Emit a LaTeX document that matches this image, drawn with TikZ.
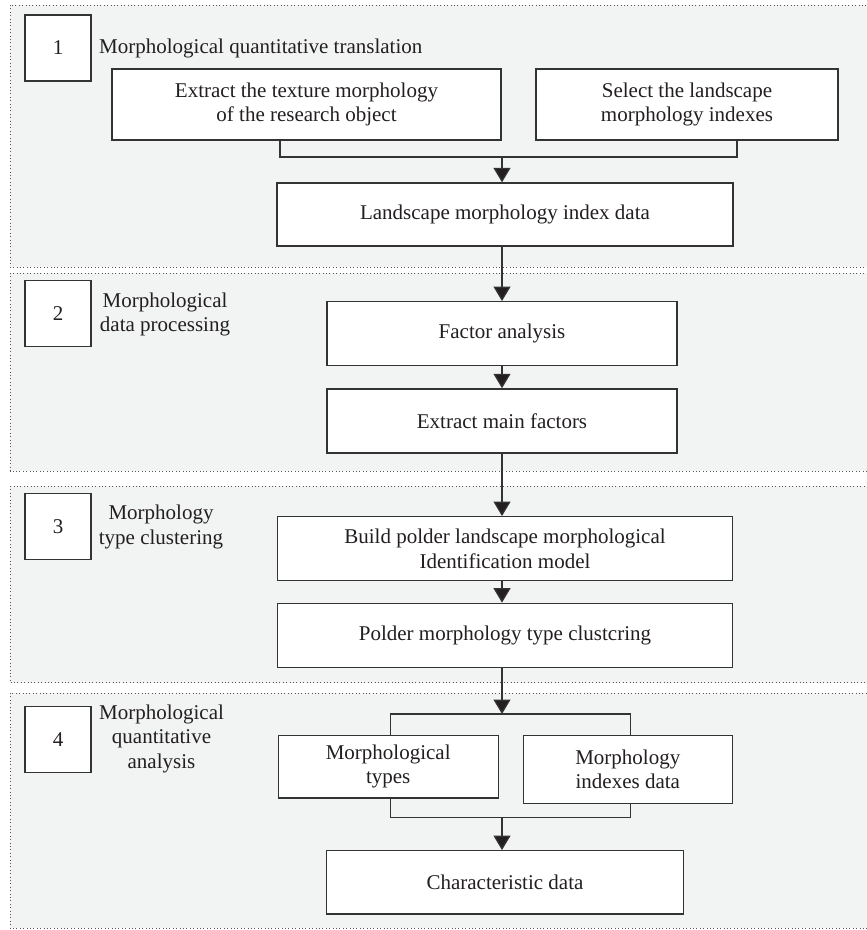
\documentclass[tikz,border=0pt]{standalone}
\usepackage{fontspec}
\setmainfont{Liberation Serif}
\usetikzlibrary{arrows.meta}
\definecolor{panelbg}{HTML}{F2F3F3}
\definecolor{ink}{HTML}{231F20}
\definecolor{edge}{HTML}{333333}
\definecolor{dots}{HTML}{555555}
\begin{document}
\begin{tikzpicture}[x=1pt,y=-1pt,
  font=\fontsize{21}{24.5}\selectfont,
  panel/.style={fill=panelbg, draw=dots, line width=1pt, dash pattern=on 1pt off 2.4pt},
  box/.style={draw=edge, fill=white, line width=1.3pt, text=ink, align=center, inner sep=0pt},
  numbox/.style={box, minimum width=66pt, minimum height=66pt},
  lab/.style={text=ink, align=center, inner sep=0pt},
  conn/.style={draw=edge, line width=1.3pt},
  arr/.style={conn, -{Triangle[length=14.5pt,width=17pt,fill=ink]}},
]
\useasboundingbox (0,0) rectangle (867,930);
\clip (0,0) rectangle (867,930);

% panels
\path[panel] (10,5) rectangle (880,267);
\path[panel] (10,273) rectangle (880,471);
\path[panel] (10,486) rectangle (880,682.5);
\path[panel] (10,693) rectangle (880,928);

% panel 1
\node[numbox] (n1) at (58,48) {1};
\node[lab, anchor=base west] (t1) at (99,53.3) {Morphological quantitative translation};
\node[box, minimum width=389pt, minimum height=71pt] (ext) at (306.5,104.5) {Extract the texture morphology\\of the research object};
\node[box, minimum width=302pt, minimum height=71pt] (sel) at (687,104.5) {Select the landscape\\morphology indexes};
\node[box, minimum width=456pt, minimum height=63pt] (land) at (505,214.5) {Landscape morphology index data};

% panel 2
\node[numbox] (n2) at (58,313.7) {2};
\node[lab] (t2) at (165,314.4) {Morphological\\data processing};
\node[box, minimum width=350pt, minimum height=64pt] (fac) at (502,333.7) {Factor analysis};
\node[box, minimum width=350pt, minimum height=64pt] (mf) at (502,420.9) {Extract main factors};

% panel 3
\node[numbox] (n3) at (58,526.3) {3};
\node[lab] (t3) at (161,527.2) {Morphology\\type clustering};
\node[box, minimum width=455pt, minimum height=64pt] (bld) at (505,548.7) {Build polder landscape morphological\\Identification model};
\node[box, minimum width=455pt, minimum height=64.4pt] (pol) at (505,635.5) {Polder morphology type clustcring};

% panel 4
\node[numbox] (n4) at (58,739.5) {4};
\node[lab] (t4) at (161.5,738.5) {Morphological\\quantitative\\analysis};
\node[box, minimum width=220pt, minimum height=62.7pt] (typ) at (388.2,766.7) {Morphological\\types};
\node[box, minimum width=209pt, minimum height=68pt] (idx) at (627.8,769.3) {Morphology\\indexes data};
\node[box, minimum width=356.6pt, minimum height=63.3pt] (chr) at (505,882.35) {Characteristic data};

% connectors
\coordinate (ax) at (502,0);
\coordinate (b1l) at (280,157);
\coordinate (b1r) at (737,157);
\draw[conn] (ext.south -| b1l) -- (b1l) -- (b1r) -- (sel.south -| b1r);
\draw[arr] (b1l -| ax) -- (land.north -| ax);
\draw[arr] (land.south -| ax) -- (fac.north -| ax);
\draw[arr] (fac.south -| ax) -- (mf.north -| ax);
\draw[arr] (mf.south -| ax) -- (bld.north -| ax);
\draw[arr] (bld.south -| ax) -- (pol.north -| ax);
\coordinate (b2l) at (390.7,714);
\coordinate (b2r) at (630.7,714);
\draw[conn] (typ.north -| b2l) -- (b2l) -- (b2r) -- (idx.north -| b2r);
\draw[arr] (pol.south -| ax) -- (b2l -| ax);
\coordinate (b3l) at (390.7,817.7);
\coordinate (b3r) at (630.7,817.7);
\draw[conn] (typ.south -| b3l) -- (b3l) -- (b3r) -- (idx.south -| b3r);
\draw[arr] (b3l -| ax) -- (chr.north -| ax);
\end{tikzpicture}
\end{document}
